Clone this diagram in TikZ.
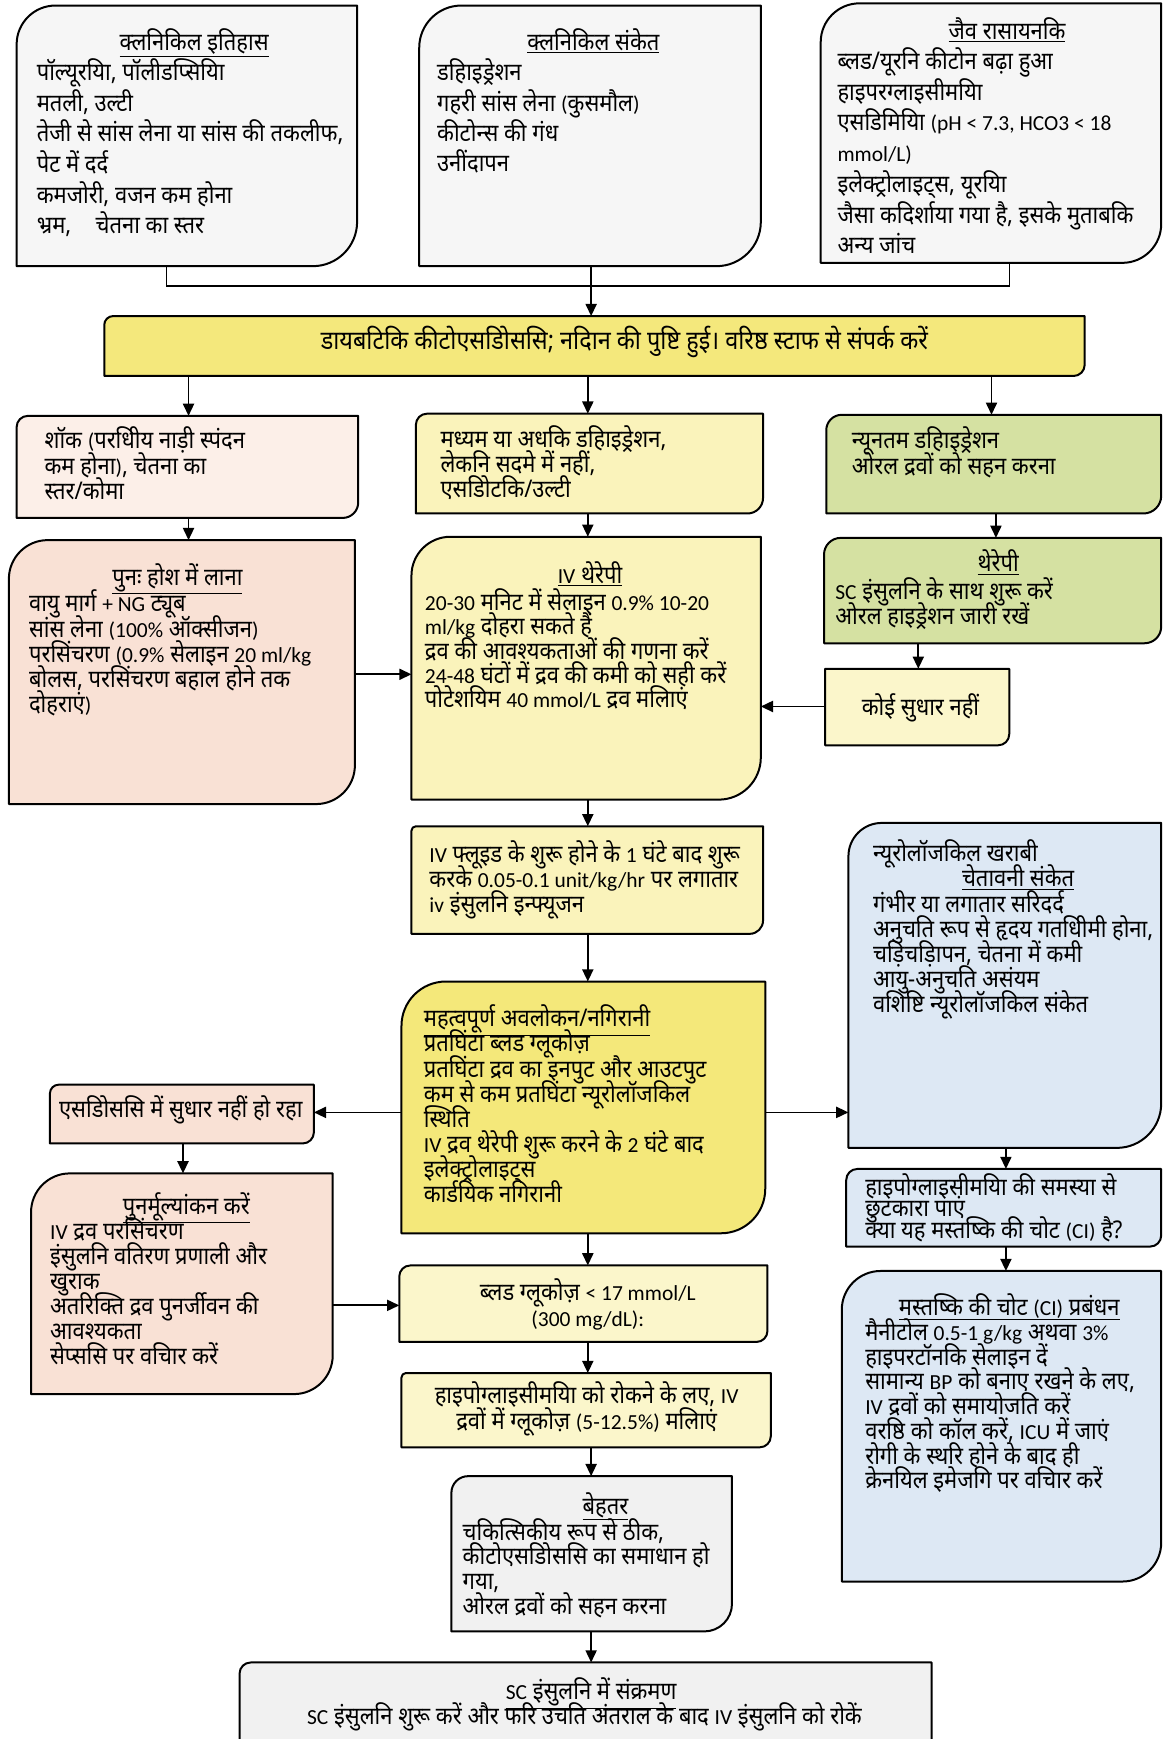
\documentclass[tikz,border=0pt]{standalone}
\usepackage{fontspec}
\setmainfont{Noto Sans}[Script=Devanagari, FakeStretch=0.9]
\newfontfamily\latf{Carlito}[Scale=0.88]
\newcommand\en[1]{{\latf #1}}
\usetikzlibrary{arrows.meta}
\definecolor{cgray}{HTML}{F6F6F6}
\definecolor{cgray2}{HTML}{F1F1F1}
\definecolor{cbar}{HTML}{F4E87C}
\definecolor{cpeach}{HTML}{F9E1D5}
\definecolor{cpeachl}{HTML}{FCEFE8}
\definecolor{cyel}{HTML}{FAF3BB}
\definecolor{cyell}{HTML}{FBF6CB}
\definecolor{cyels}{HTML}{F4E87A}
\definecolor{cgreen}{HTML}{D5E1A2}
\definecolor{cblue}{HTML}{DDE8F4}
\newcommand\fst{\rule{0pt}{26pt}}
\newcommand\fz[2]{\fontsize{#1}{#2}\selectfont\lineskiplimit=-100pt\lineskip=0pt\relax}
\newcommand\mybox[8]{%
  \draw[bl, fill=#8] ({#2},{#3+#6}) .. controls ({#2},{#3+0.4477*#6}) and ({#2+0.4477*#6},{#3}) .. ({#2+#6},{#3}) -- ({#4},{#3}) -- ({#4},{#5-#7}) .. controls ({#4},{#5-0.4477*#7}) and ({#4-0.4477*#7},{#5}) .. ({#4-#7},{#5}) -- ({#2},{#5}) -- cycle;
  \node[boxn, minimum width={(#4-#2)*1pt}, minimum height={(#5-#3)*1pt}] (#1) at ({(#2+#4)/2},{(#3+#5)/2}) {};
}
\tikzset{
  bl/.style={draw=black, line width=1.8pt, line join=round},
  arr/.style={line width=1.6pt, -{Triangle[length=11pt,width=10pt]}},
  ln/.style={line width=1.3pt},
  boxn/.style={inner sep=0pt, outer sep=0pt, draw=none},
  tx/.style={inner sep=0pt, anchor=north west, align=left, font=\fz{22}{23}},
  tc/.style={inner sep=0pt, anchor=north, align=center, font=\fz{22}{23}},
}
\begin{document}
\begin{tikzpicture}[x=1pt,y=-1pt]
\fill[white] (0,0) rectangle (1050,1568);
\useasboundingbox (0,0) rectangle (1050,1568);
% columns / rows
\coordinate (xa) at (150,0);
\coordinate (xb) at (533,0);
\coordinate (xc) at (910,0);
\coordinate (x170) at (170,0);
\coordinate (x530) at (530,0);
\coordinate (x893) at (894,0);
\coordinate (x898) at (898,0);
\coordinate (x828) at (828,0);
\coordinate (x165) at (165,0);
\coordinate (x907) at (907,0);
\coordinate (y608) at (0,608);
\coordinate (y637) at (0,637);
\coordinate (y1003) at (0,1003);
\coordinate (y1177) at (0,1177);
\coordinate (busL) at (150,258);
\coordinate (busM) at (533,258);
\coordinate (busR) at (910,258);
% boxes
\mybox{A}{15}{5}{322}{240}{35}{40}{cgray}
\mybox{B}{378}{5}{686}{240}{38}{40}{cgray}
\mybox{C}{740}{3}{1047}{237}{35}{35}{cgray}
\mybox{D}{94}{285}{978}{339}{8}{10}{cbar}
\mybox{E}{15}{375}{323}{467}{10}{14}{cpeachl}
\mybox{F}{375}{373}{688}{463}{10}{14}{cyel}
\mybox{G}{745}{374}{1047}{463}{14}{16}{cgreen}
\mybox{H}{8}{487}{320}{725}{35}{35}{cpeach}
\mybox{I}{371}{484}{686}{721}{35}{38}{cyel}
\mybox{J}{743}{485}{1047}{580}{15}{15}{cgreen}
\mybox{K}{744}{603}{910}{672}{0}{10}{cyell}
\mybox{L}{371}{745}{688}{842}{4}{12}{cyel}
\mybox{M}{362}{885}{690}{1112}{40}{40}{cyels}
\mybox{N}{45}{978}{283}{1031}{8}{10}{cpeach}
\mybox{O}{765}{742}{1047}{1035}{30}{40}{cblue}
\mybox{P}{28}{1058}{300}{1257}{35}{35}{cpeach}
\mybox{Q}{360}{1141}{692}{1210}{10}{10}{cyell}
\mybox{R}{362}{1238}{695}{1305}{4}{10}{cyell}
\mybox{S}{407}{1331}{660}{1471}{15}{25}{cgray2}
\mybox{T}{216}{1499}{840}{1585}{10}{0}{cgray2}
\mybox{U}{763}{1054}{1047}{1124}{10}{10}{cblue}
\mybox{V}{759}{1146}{1047}{1426}{35}{35}{cblue}
% texts
\begin{scope}[yshift=3.5pt]
\node[tc] (At) at (175,23) {\fst\underline{क्लनिकिल इतिहास}};
\node[tx, font=\fz{22}{27.6}] (Ab) at (33,50) {\fst पॉल्यूरयिा, पॉलीडप्सियिा\\मतली, उल्टी\\तेजी से सांस लेना या सांस की तकलीफ,\\पेट में दर्द\\कमजोरी, वजन कम होना\\भ्रम,\quad चेतना का स्तर};
\node[tc] (Bt) at (535,23) {\fst\underline{क्लनिकिल संकेत}};
\node[tx, font=\fz{22}{27.4}] (Bb) at (394,50) {\fst डहिाइड्रेशन\\गहरी सांस लेना \en{(}कुसमौल\en{)}\\कीटोन्स की गंध\\उनींदापन};
\node[tc] (Ct) at (908,13) {\fst\underline{जैव रासायनकि}};
\node[tx, font=\fz{22}{27.7}] (Cb) at (755,40) {\fst ब्लड/यूरनि कीटोन बढ़ा हुआ\\हाइपरग्लाइसीमयिा\\एसडिमियिा \en{(pH < 7.3, HCO3 < 18}\\\en{mmol/L)}\\इलेक्ट्रोलाइट्स, यूरयिा\\जैसा कदिर्शाया गया है, इसके मुताबकि\\अन्य जांच};
\node[tc, font=\fz{23.5}{23}] (Dt) at (563,292) {\fst डायबटिकि कीटोएसडिोससि; नदिान की पुष्टि हुई। वरिष्ठ स्टाफ से संपर्क करें};
\node[tx] (Et) at (40,382) {\fst शॉक \en{(}परधिीय नाड़ी स्पंदन\\कम होना\en{)}, चेतना का\\स्तर/कोमा};
\node[tx, font=\fz{22}{22.5}] (Ft) at (397,381) {\fst मध्यम या अधकि डहिाइड्रेशन,\\लेकनि सदमे में नहीं,\\एसडिोटकि/उल्टी};
\node[tx] (Gt) at (768,382) {\fst न्यूनतम डहिाइड्रेशन\\ओरल द्रवों को सहन करना};
\node[tc] (Ht) at (160,505) {\fst\underline{पुनः होश में लाना}};
\node[tx, font=\fz{22}{22.75}] (Hb) at (26,529) {\fst वायु मार्ग \en{+ NG} ट्यूब\\सांस लेना \en{(100\%} ऑक्सीजन\en{)}\\परसिंचरण \en{(0.9\%} सेलाइन \en{20 ml/kg}\\बोलस, परसिंचरण बहाल होने तक\\दोहराएं\en{)}};
\node[tc] (It) at (532,503) {\fst\underline{\en{IV} थेरेपी}};
\node[tx, font=\fz{22}{21.75}] (Ib) at (383,528) {\fst \en{20-30} मनिट में सेलाइन \en{0.9\% 10-20}\\\en{ml/kg} दोहरा सकते हैं\\द्रव की आवश्यकताओं की गणना करें\\\en{24-48} घंटों में द्रव की कमी को सही करें\\पोटेशयिम \en{40 mmol/L} द्रव मलिाएं};
\node[tc] (Jt) at (900,493) {\fst\underline{थेरेपी}};
\node[tx, font=\fz{22}{22}] (Jb) at (753,518) {\fst \en{SC} इंसुलनि के साथ शुरू करें\\ओरल हाइड्रेशन जारी रखें};
\node[tc] (Kt) at (830,622) {\fst कोई सुधार नहीं};
\node[tx, font=\fz{22}{22.5}] (Lt) at (387,755) {\fst \en{IV} फ्लूइड के शुरू होने के \en{1} घंटे बाद शुरू\\करके \en{0.05-0.1 unit/kg/hr} पर लगातार\\\en{iv} इंसुलनि इन्फ्यूजन};
\node[tx, font=\fz{22}{22.7}] (Mt) at (382,903) {\fst\underline{महत्वपूर्ण अवलोकन/नगिरानी}\\प्रतघिंटा ब्लड ग्लूकोज़\\प्रतघिंटा द्रव का इनपुट और आउटपुट\\कम से कम प्रतघिंटा न्यूरोलॉजकिल\\स्थिति\\\en{IV} द्रव थेरेपी शुरू करने के \en{2} घंटे बाद\\इलेक्ट्रोलाइट्स\\कार्डयिक नगिरानी};
\node[tc] (Nt) at (163,985) {\fst एसडिोससि में सुधार नहीं हो रहा};
\node[tx] (Oa) at (787,754) {\fst न्यूरोलॉजकिल खराबी};
\node[tc] (Ot) at (918,777) {\fst\underline{चेतावनी संकेत}};
\node[tx, font=\fz{22}{22.5}] (Ob) at (787,800) {\fst गंभीर या लगातार सरिदर्द\\अनुचति रूप से हृदय गतधिीमी होना,\\चड़िचड़िापन, चेतना में कमी\\आयु-अनुचति असंयम\\वशिष्टि न्यूरोलॉजकिल संकेत};
\node[tc] (Pt) at (168,1072) {\fst\underline{पुनर्मूल्यांकन करें}};
\node[tx, font=\fz{22}{22.6}] (Pb) at (45,1095) {\fst \en{IV} द्रव परसिंचरण\\इंसुलनि वतिरण प्रणाली और\\खुराक\\अतरिक्ति द्रव पुनर्जीवन की\\आवश्यकता\\सेप्ससि पर वचिार करें};
\node[tc] (Qt) at (530,1150) {\fst ब्लड ग्लूकोज़ \en{< 17 mmol/L}\\\en{(300 mg/dL):}};
\node[tc] (Rt) at (529,1243) {\fst हाइपोग्लाइसीमयिा को रोकने के लए, \en{IV}\\द्रवों में ग्लूकोज़ \en{(5-12.5\%)} मलिाएं};
\node[tc] (St) at (546,1343) {\fst\underline{बेहतर}};
\node[tx, font=\fz{22}{22.3}] (Sb) at (417,1366) {\fst चकित्सिकीय रूप से ठीक,\\कीटोएसडिोससि का समाधान हो\\गया,\\ओरल द्रवों को सहन करना};
\node[tc] (Tt) at (533,1510) {\fst\underline{\en{SC} इंसुलनि में संक्रमण}};
\node[tc] (Tb) at (527,1532) {\fst \en{SC} इंसुलनि शुरू करें और फरि उचति अंतराल के बाद \en{IV} इंसुलनि को रोकें};
\node[tx, font=\fz{22}{19.5}] (Ut) at (780,1055) {\fst हाइपोग्लाइसीमयिा की समस्या से\\छुटकारा पाएं\\क्या यह मस्तष्कि की चोट \en{(CI)} है?};
\node[tc] (Vt) at (910,1163) {\fst\underline{मस्तष्कि की चोट \en{(CI)} प्रबंधन}};
\node[tx, font=\fz{22}{22.3}] (Vb) at (780,1186) {\fst मैनीटोल \en{0.5-1 g/kg} अथवा \en{3\%}\\हाइपरटॉनकि सेलाइन दें\\सामान्य \en{BP} को बनाए रखने के लए,\\\en{IV} द्रवों को समायोजति करें\\वरष्ठि को कॉल करें, \en{ICU} में जाएं\\रोगी के स्थरि होने के बाद ही\\क्रेनयिल इमेजगि पर वचिार करें};
\end{scope}
% connectors
\draw[ln] (A.south -| xa) -- (busL) -- (busR) -- (C.south -| xc);
\draw[ln] (B.south -| xb) -- (busM);
\draw[arr] (busM) -- (D.north -| xb);
\draw[arr] (D.south -| x170) -- (E.north -| x170);
\draw[arr] (D.south -| x530) -- (F.north -| x530);
\draw[arr] (D.south -| x893) -- (G.north -| x893);
\draw[arr] (E.south -| x170) -- (H.north -| x170);
\draw[arr] (F.south -| x530) -- (I.north -| x530);
\draw[arr] (G.south -| x898) -- (J.north -| x898);
\draw[arr] (H.east |- y608) -- (I.west |- y608);
\draw[arr] (J.south -| x828) -- (K.north -| x828);
\draw[arr] (K.west |- y637) -- (I.east |- y637);
\draw[arr] (I.south -| x530) -- (L.north -| x530);
\draw[arr] (L.south -| x530) -- (M.north -| x530);
\draw[arr] (M.west |- y1003) -- (N.east |- y1003);
\draw[arr] (M.east |- y1003) -- (O.west |- y1003);
\draw[arr] (N.south -| x165) -- (P.north -| x165);
\draw[arr] (P.east |- y1177) -- (Q.west |- y1177);
\draw[arr] (M.south -| x530) -- (Q.north -| x530);
\draw[arr] (Q.south -| x530) -- (R.north -| x530);
\draw[arr] (R.south -| xb) -- (S.north -| xb);
\draw[arr] (S.south -| xb) -- (T.north -| xb);
\draw[arr] (O.south -| x907) -- (U.north -| x907);
\draw[arr] (U.south -| x907) -- (V.north -| x907);
\end{tikzpicture}
\end{document}
